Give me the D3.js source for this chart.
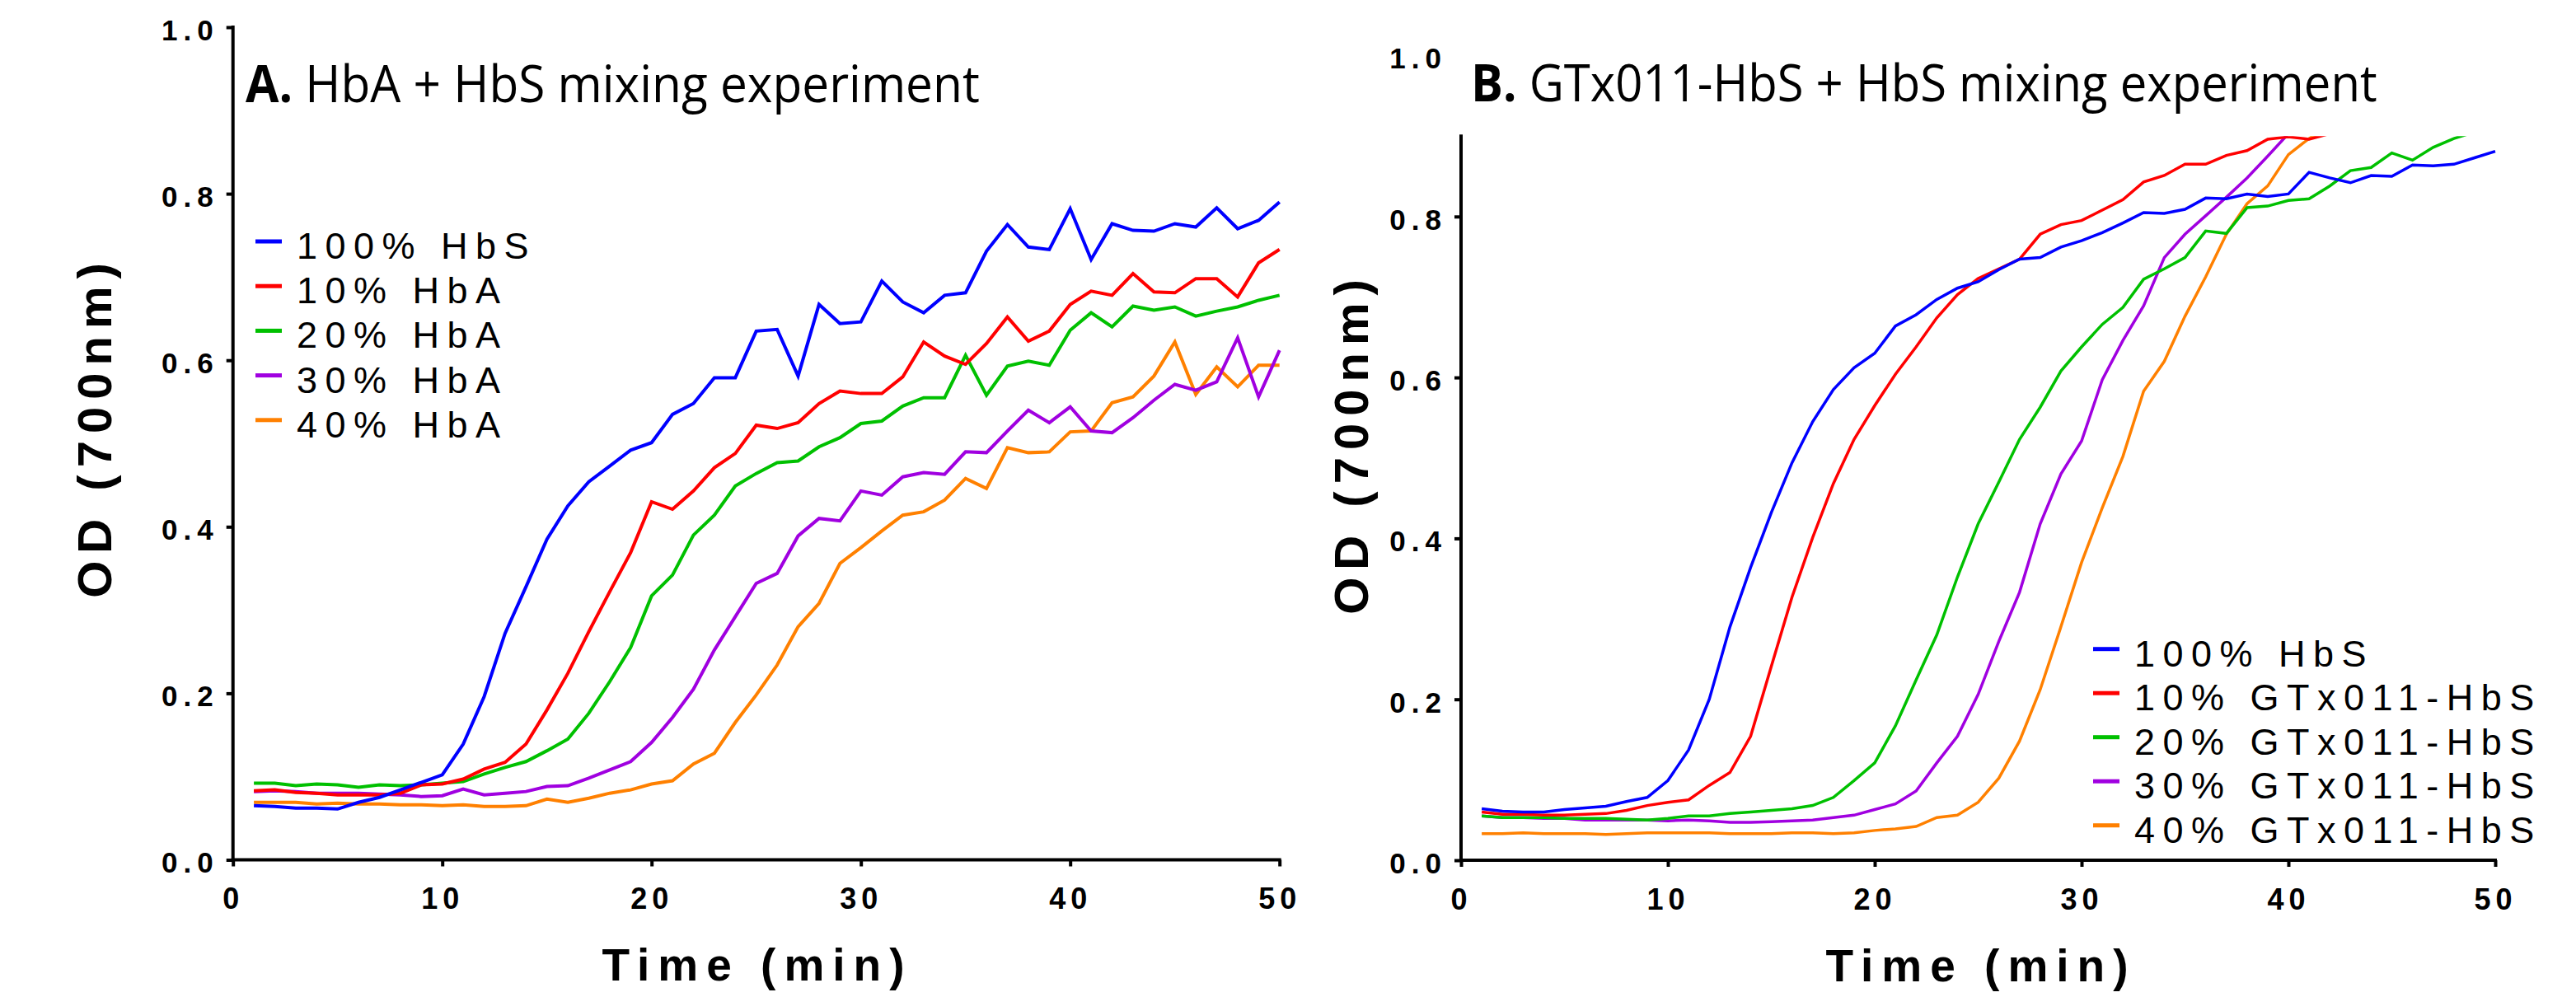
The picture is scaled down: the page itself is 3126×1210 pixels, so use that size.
<!DOCTYPE html>
<html>
<head>
<meta charset="utf-8">
<script src="https://cdn.jsdelivr.net/npm/d3@7"></script>
<style>
  body { margin: 0; background: #fff; }
  svg { display: block; }
  .tick text { font-family: 'Liberation Sans', Arial, sans-serif; font-weight: bold; fill: #000; }
  .legend-label { font-family: 'Liberation Sans', Arial, sans-serif; font-size: 45px; letter-spacing: 9.5px; }
  .axis-title { font-family: 'Liberation Sans', Arial, sans-serif; font-weight: bold; }
  .panel-title { font-family: 'Open Sans', 'Noto Sans', sans-serif; font-size: 63px; }
</style>
</head>
<body>
<svg id="figure" width="3126" height="1210"></svg>
<script>
// shared axes
const timeMin = [1, 2, 3, 4, 5, 6, 7, 8, 9, 10, 11, 12, 13, 14, 15, 16, 17, 18, 19, 20,
    21, 22, 23, 24, 25, 26, 27, 28, 29, 30, 31, 32, 33, 34, 35, 36, 37, 38, 39, 40,
    41, 42, 43, 44, 45, 46, 47, 48, 49, 50];
const xTicks = [0, 10, 20, 30, 40, 50];
const yTicks = [0, 0.2, 0.4, 0.6, 0.8, 1.0];
const seriesColors = ['#0000ff', '#ff0000', '#00c000', '#a000e0', '#ff8000'];

// Panel A: HbA + HbS
const legendA = ['100% HbS', '10% HbA', '20% HbA', '30% HbA', '40% HbA'];
const hbs100A = [0.065, 0.064, 0.062, 0.062, 0.061, 0.069, 0.075, 0.084, 0.093, 0.102,
    0.139, 0.196, 0.272, 0.328, 0.385, 0.425, 0.454, 0.473, 0.492, 0.501,
    0.535, 0.548, 0.579, 0.579, 0.635, 0.637, 0.581, 0.667, 0.644, 0.646,
    0.695, 0.670, 0.657, 0.678, 0.681, 0.731, 0.763, 0.736, 0.733, 0.782,
    0.721, 0.764, 0.756, 0.755, 0.764, 0.760, 0.783, 0.758, 0.768, 0.790];
const hba10 = [0.083, 0.084, 0.081, 0.080, 0.078, 0.078, 0.078, 0.080, 0.090, 0.091,
    0.097, 0.109, 0.117, 0.139, 0.180, 0.224, 0.274, 0.322, 0.369, 0.430,
    0.421, 0.443, 0.471, 0.488, 0.522, 0.518, 0.525, 0.548, 0.563, 0.560,
    0.560, 0.580, 0.622, 0.605, 0.595, 0.620, 0.652, 0.623, 0.635, 0.667,
    0.683, 0.678, 0.704, 0.682, 0.681, 0.698, 0.698, 0.676, 0.717, 0.733];
const hba20 = [0.092, 0.092, 0.089, 0.091, 0.090, 0.087, 0.090, 0.089, 0.090, 0.092,
    0.094, 0.103, 0.111, 0.118, 0.131, 0.145, 0.176, 0.214, 0.255, 0.317,
    0.342, 0.390, 0.414, 0.449, 0.464, 0.477, 0.479, 0.496, 0.507, 0.524,
    0.527, 0.545, 0.555, 0.555, 0.606, 0.558, 0.593, 0.599, 0.594, 0.636,
    0.657, 0.640, 0.665, 0.660, 0.664, 0.653, 0.659, 0.664, 0.672, 0.678];
const hba30 = [0.082, 0.083, 0.082, 0.080, 0.080, 0.080, 0.079, 0.078, 0.076, 0.077,
    0.085, 0.078, 0.080, 0.082, 0.088, 0.089, 0.098, 0.108, 0.118, 0.141,
    0.171, 0.205, 0.252, 0.292, 0.332, 0.344, 0.389, 0.410, 0.407, 0.443,
    0.438, 0.460, 0.465, 0.463, 0.490, 0.489, 0.515, 0.540, 0.525, 0.544,
    0.515, 0.513, 0.531, 0.552, 0.571, 0.564, 0.574, 0.627, 0.556, 0.612];
const hba40 = [0.069, 0.069, 0.069, 0.067, 0.068, 0.067, 0.067, 0.066, 0.066, 0.065,
    0.066, 0.064, 0.064, 0.065, 0.073, 0.069, 0.074, 0.080, 0.084, 0.091,
    0.095, 0.115, 0.128, 0.165, 0.198, 0.234, 0.280, 0.308, 0.356, 0.375,
    0.395, 0.414, 0.418, 0.432, 0.458, 0.446, 0.495, 0.489, 0.490, 0.514,
    0.515, 0.549, 0.556, 0.581, 0.622, 0.559, 0.592, 0.568, 0.594, 0.594];

// Panel B: GTx011-HbS + HbS (readings stop where the curve leaves the plot at 0.9)
const legendB = ['100% HbS', '10% GTx011-HbS', '20% GTx011-HbS', '30% GTx011-HbS', '40% GTx011-HbS'];
const hbs100B = [0.064, 0.061, 0.060, 0.060, 0.063, 0.065, 0.067, 0.073, 0.078, 0.099,
    0.137, 0.200, 0.290, 0.364, 0.432, 0.494, 0.545, 0.585, 0.612, 0.630,
    0.664, 0.678, 0.697, 0.711, 0.719, 0.734, 0.747, 0.749, 0.762, 0.770,
    0.780, 0.792, 0.805, 0.804, 0.809, 0.823, 0.822, 0.828, 0.825, 0.828,
    0.855, 0.848, 0.842, 0.851, 0.850, 0.864, 0.863, 0.865, 0.873, 0.881];
const gtx10 = [0.060, 0.057, 0.057, 0.056, 0.056, 0.057, 0.058, 0.062, 0.068, 0.072,
    0.075, 0.093, 0.109, 0.154, 0.241, 0.327, 0.401, 0.468, 0.523, 0.565,
    0.604, 0.638, 0.674, 0.703, 0.723, 0.735, 0.747, 0.778, 0.790, 0.795,
    0.808, 0.821, 0.843, 0.851, 0.865, 0.865, 0.876, 0.882, 0.896, 0.899,
    0.896, 0.903];
const gtx20 = [0.055, 0.053, 0.053, 0.053, 0.052, 0.052, 0.052, 0.051, 0.050, 0.052,
    0.055, 0.055, 0.058, 0.060, 0.062, 0.064, 0.068, 0.078, 0.099, 0.121,
    0.167, 0.224, 0.280, 0.352, 0.418, 0.470, 0.523, 0.563, 0.608, 0.638,
    0.666, 0.687, 0.722, 0.735, 0.749, 0.782, 0.779, 0.811, 0.813, 0.820,
    0.822, 0.838, 0.857, 0.861, 0.879, 0.870, 0.886, 0.897, 0.905];
const gtx30 = [0.055, 0.053, 0.053, 0.052, 0.052, 0.050, 0.050, 0.050, 0.050, 0.049,
    0.050, 0.049, 0.047, 0.047, 0.048, 0.049, 0.050, 0.053, 0.056, 0.063,
    0.070, 0.086, 0.121, 0.154, 0.206, 0.272, 0.333, 0.418, 0.480, 0.521,
    0.597, 0.646, 0.689, 0.749, 0.778, 0.801, 0.824, 0.848, 0.875, 0.903];
const gtx40 = [0.033, 0.033, 0.034, 0.033, 0.033, 0.033, 0.032, 0.033, 0.034, 0.034,
    0.034, 0.034, 0.033, 0.033, 0.033, 0.034, 0.034, 0.033, 0.034, 0.037,
    0.039, 0.042, 0.053, 0.056, 0.072, 0.102, 0.148, 0.212, 0.290, 0.370,
    0.438, 0.502, 0.583, 0.620, 0.676, 0.725, 0.778, 0.816, 0.838, 0.877,
    0.897, 0.912];

class MixingChart {

    constructor(_config, _data) {
        this.config = {
            parentElement: _config.parentElement,
            id: _config.id,
            left: _config.left,
            right: _config.right,
            top: _config.top,       // pixel row of OD 1.0
            bottom: _config.bottom, // pixel row of OD 0.0
            axisMax: _config.axisMax,
            lineWidth: _config.lineWidth,
            title: _config.title,
            legend: _config.legend,
            yTitle: _config.yTitle,
            xTitle: _config.xTitle
        }
        this.data = _data;
        this.initVis();
    }

    initVis() {
        let vis = this;
        const c = vis.config;

        vis.xScale = d3.scaleLinear()
            .domain([0, 50])
            .range([c.left, c.right]);

        vis.yScale = d3.scaleLinear()
            .domain([0, 1])
            .range([c.bottom, c.top]);

        vis.xAxis = d3.axisBottom(vis.xScale)
            .tickValues(xTicks)
            .tickSize(8)
            .tickSizeOuter(0)
            .tickPadding(26)
            .tickFormat(d3.format('d'));

        vis.yAxis = d3.axisLeft(vis.yScale)
            .tickValues(yTicks)
            .tickSize(8)
            .tickSizeOuter(0)
            .tickPadding(9)
            .tickFormat(d3.format('.1f'));

        vis.svg = d3.select(c.parentElement);
        vis.chart = vis.svg.append('g').attr('class', 'panel');

        // data above axisMax is cut off, as in the original figure
        vis.chart.append('clipPath')
            .attr('id', `clip-${c.id}`)
          .append('rect')
            .attr('x', c.left)
            .attr('y', vis.yScale(c.axisMax))
            .attr('width', c.right - c.left + 10)
            .attr('height', c.bottom - vis.yScale(c.axisMax));

        vis.lineG = vis.chart.append('g')
            .attr('clip-path', `url(#clip-${c.id})`);

        vis.xAxisG = vis.chart.append('g')
            .attr('class', 'axis x-axis')
            .attr('transform', `translate(0,${c.bottom})`);

        vis.yAxisG = vis.chart.append('g')
            .attr('class', 'axis y-axis')
            .attr('transform', `translate(${c.left},0)`);

        vis.updateVis();
    }

    updateVis() {
        let vis = this;
        vis.series = vis.data.map(s => ({
            name: s.name,
            color: s.color,
            points: s.values.map((v, i) => ({t: timeMin[i], od: v}))
        }));
        vis.renderVis();
    }

    renderVis() {
        let vis = this;
        const c = vis.config;

        const line = d3.line()
            .x(d => vis.xScale(d.t))
            .y(d => vis.yScale(d.od));

        // first series drawn last so it sits on top
        vis.lineG.selectAll('.series')
            .data(vis.series.slice().reverse())
            .join('path')
            .attr('class', 'series')
            .attr('fill', 'none')
            .attr('stroke', d => d.color)
            .attr('stroke-width', c.lineWidth)
            .attr('stroke-linejoin', 'miter')
            .attr('d', d => line(d.points));

        // axes
        vis.yAxisG.call(vis.yAxis)
            .call(g => g.select('.domain').remove())
            .call(g => g.selectAll('.tick')
                .filter(d => d > c.axisMax + 1e-6)
                .select('line').remove());
        vis.yAxisG.selectAll('.tick line').attr('stroke-width', 4);
        vis.yAxisG.selectAll('.tick text')
            .attr('font-size', 35)
            .attr('letter-spacing', 7)
            .attr('dy', '0.44em');
        vis.yAxisG.append('line')
            .attr('y1', vis.yScale(0))
            .attr('y2', vis.yScale(c.axisMax))
            .attr('stroke', '#000')
            .attr('stroke-width', 4)
            .attr('stroke-linecap', 'square');

        vis.xAxisG.call(vis.xAxis)
            .call(g => g.select('.domain').remove());
        vis.xAxisG.selectAll('.tick line').attr('stroke-width', 4);
        vis.xAxisG.selectAll('.tick text')
            .attr('font-size', 36)
            .attr('letter-spacing', 6);
        vis.xAxisG.append('line')
            .attr('x1', vis.xScale(0))
            .attr('x2', vis.xScale(50))
            .attr('stroke', '#000')
            .attr('stroke-width', 4)
            .attr('stroke-linecap', 'square');

        // axis titles
        vis.chart.append('text')
            .attr('class', 'axis-title')
            .attr('transform', `translate(${c.yTitle.x},${c.yTitle.y}) rotate(-90)`)
            .attr('text-anchor', 'middle')
            .attr('font-size', 58)
            .attr('letter-spacing', 9)
            .text('OD (700nm)');

        vis.chart.append('text')
            .attr('class', 'axis-title')
            .attr('x', c.xTitle.x)
            .attr('y', c.xTitle.y)
            .attr('text-anchor', 'middle')
            .attr('font-size', 55)
            .attr('letter-spacing', 10)
            .text('Time (min)');

        // panel title, squeezed to the width it has in the original
        const titleG = vis.chart.append('g');
        const title = titleG.append('text').attr('class', 'panel-title');
        title.append('tspan').attr('font-weight', 'bold').text(c.title.tag);
        title.append('tspan').text(' ' + c.title.text);
        const tw = title.node().getBBox().width;
        titleG.attr('transform', `translate(${c.title.x},${c.title.y}) scale(${c.title.width / tw},1)`);

        // legend
        const items = vis.chart.append('g')
            .selectAll('.legend-item')
            .data(vis.series)
            .join('g')
            .attr('class', 'legend-item')
            .attr('transform', (d, i) => `translate(${c.legend.x},${c.legend.y + i * c.legend.step})`);

        items.append('line')
            .attr('x1', 0)
            .attr('x2', 32)
            .attr('stroke', d => d.color)
            .attr('stroke-width', 5);

        items.append('text')
            .attr('class', 'legend-label')
            .attr('x', 50)
            .attr('y', 21)
            .text(d => d.name);
    }
}

const svg = '#figure';

new MixingChart({
    parentElement: svg,
    id: 'a',
    left: 282.7, right: 1552.7, top: 33, bottom: 1043.5,
    axisMax: 1.0,
    lineWidth: 4,
    title: {tag: 'A.', text: 'HbA + HbS mixing experiment', x: 298, y: 124, width: 891},
    legend: {x: 310, y: 293, step: 54.2},
    yTitle: {x: 135, y: 518},
    xTitle: {x: 919, y: 1190}
}, [hbs100A, hba10, hba20, hba30, hba40].map((v, i) => ({name: legendA[i], color: seriesColors[i], values: v})));

new MixingChart({
    parentElement: svg,
    id: 'b',
    left: 1773, right: 3028, top: 67.5, bottom: 1044,
    axisMax: 0.9,
    lineWidth: 3.5,
    title: {tag: 'B.', text: 'GTx011-HbS + HbS mixing experiment', x: 1785, y: 123, width: 1100},
    legend: {x: 2540, y: 787.7, step: 53.5},
    yTitle: {x: 1660, y: 538},
    xTitle: {x: 2404, y: 1190.5}
}, [hbs100B, gtx10, gtx20, gtx30, gtx40].map((v, i) => ({name: legendB[i], color: seriesColors[i], values: v})));
</script>
</body>
</html>
